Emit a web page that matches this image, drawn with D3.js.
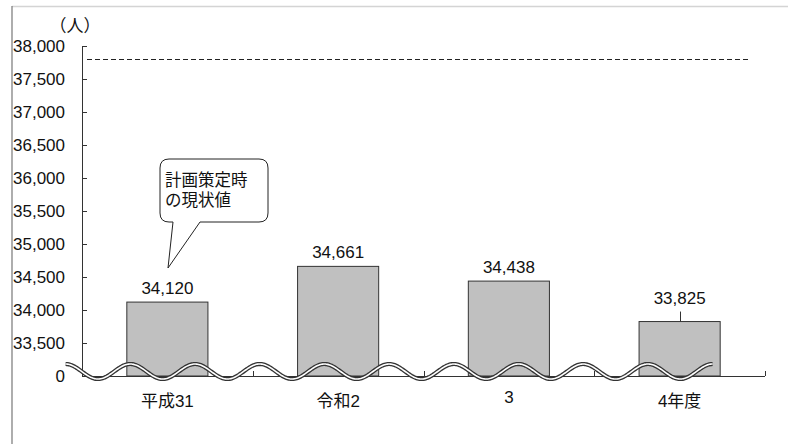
<!DOCTYPE html>
<html><head><meta charset="utf-8">
<script src="https://cdn.jsdelivr.net/npm/d3@7"></script>
<style>
html,body{margin:0;padding:0;background:#fff;}
svg{display:block;}
text{font-family:"Liberation Sans","Noto Sans CJK JP",Arial,sans-serif;fill:#111;}
</style></head>
<body>
<svg id="c" width="788" height="444"></svg>
<script>
const categories = ["平成31", "令和2", "3", "4年度"];
const values = [34120, 34661, 34438, 33825];
const valueLabels = ["34,120", "34,661", "34,438", "33,825"];
const targetValue = 37800;
const yTicks = [33000, 33500, 34000, 34500, 35000, 35500, 36000, 36500, 37000, 37500, 38000];
const yTickLabels = ["0", "33,500", "34,000", "34,500", "35,000", "35,500", "36,000", "36,500", "37,000", "37,500", "38,000"];
const unitLabel = "（人）";
const calloutLines = ["計画策定時", "の現状値"];

(function () {
const svg = d3.select("#c");
const pLeft = 82, pRight = 765, pTop = 46, pBottom = 376;

const y = d3.scaleLinear().domain([33000, 38000]).range([pBottom, pTop]);
const x = d3.scaleBand().domain(categories).range([pLeft, pRight]).padding(0);
const barW = x.bandwidth() * 0.475;

// frame lines
svg.append("line").attr("x1", 12).attr("x2", 788).attr("y1", 6.5).attr("y2", 6.5).attr("stroke", "#d4d4d4").attr("stroke-width", 1.5);
svg.append("line").attr("x1", 12).attr("x2", 12).attr("y1", 6).attr("y2", 444).attr("stroke", "#777").attr("stroke-width", 1.2);

// target dashed line
svg.append("line").attr("x1", pLeft + 5).attr("x2", 749)
  .attr("y1", Math.round(y(targetValue)) + 0.5).attr("y2", Math.round(y(targetValue)) + 0.5)
  .attr("stroke", "#222").attr("stroke-width", 1).attr("stroke-dasharray", "5,3");

// bars
svg.selectAll("rect.bar").data(values).enter().append("rect")
  .attr("class", "bar")
  .attr("x", (d, i) => x(categories[i]) + x.bandwidth() / 2 - barW / 2)
  .attr("y", d => y(d))
  .attr("width", barW)
  .attr("height", d => pBottom - y(d))
  .attr("fill", "#c0c0c0").attr("stroke", "#333").attr("stroke-width", 1);

// y axis
const yAxis = d3.axisLeft(y).tickValues(yTicks)
  .tickFormat((d, i) => yTickLabels[i]).tickSize(-5).tickPadding(17);
const gy = svg.append("g").attr("transform", `translate(${pLeft},0)`).call(yAxis);
gy.select(".domain").attr("stroke", "#333");
gy.selectAll(".tick line").attr("stroke", "#333");
gy.selectAll(".tick text").style("font-size", "17px").attr("fill", "#111")
  .style("font-family", '"Liberation Sans","Noto Sans CJK JP",Arial,sans-serif');

// x axis line + boundary ticks
svg.append("line").attr("x1", pLeft).attr("x2", pRight).attr("y1", pBottom + 0.5).attr("y2", pBottom + 0.5).attr("stroke", "#333");
categories.forEach(c => {
  const xb = Math.round(x(c) + x.bandwidth()) + 0.5;
  svg.append("line").attr("x1", xb).attr("x2", xb).attr("y1", pBottom - 5).attr("y2", pBottom).attr("stroke", "#333");
});

// category labels
svg.selectAll("text.cat").data(categories).enter().append("text")
  .attr("class", "cat")
  .attr("x", d => x(d) + x.bandwidth() / 2)
  .attr("y", d => d === "3" ? 403 : 407)
  .attr("text-anchor", "middle").style("font-size", "17px")
  .text(d => d);

// value labels
svg.selectAll("text.val").data(values).enter().append("text")
  .attr("class", "val")
  .attr("x", (d, i) => x(categories[i]) + x.bandwidth() / 2)
  .attr("y", (d, i) => i === 3 ? y(d) - 18 : y(d) - 8)
  .attr("text-anchor", "middle").style("font-size", "17px")
  .text((d, i) => valueLabels[i]);
// leader line for last label
{
  const xc = Math.round(x(categories[3]) + x.bandwidth() / 2) + 0.5;
  svg.append("line").attr("x1", xc).attr("x2", xc).attr("y1", y(values[3]) - 10).attr("y2", y(values[3])).attr("stroke", "#333");
}

// unit label
svg.append("text").attr("x", 75).attr("y", 32).attr("text-anchor", "middle")
  .style("font-size", "17px").text(unitLabel);

// axis break wave
const period = 64.7, x0 = 65.6, cy = 371.5, amp = 7.5;
const pts = d3.range(0, 10 * period + 0.01, 1).map(t => [x0 + t, cy - amp * Math.cos(2 * Math.PI * t / period)]);
const line = d3.line();
svg.append("path").attr("d", line(pts)).attr("fill", "none").attr("stroke", "#333").attr("stroke-width", 4.2);
svg.append("path").attr("d", line(pts)).attr("fill", "none").attr("stroke", "#fff").attr("stroke-width", 1.6);

// callout
const bx = 160, by = 159, bw = 108, bh = 63, r = 9;
const tailL = 173, tailR = 200, tipX = 168, tipY = 268;
const cp = `M${bx + r},${by} H${bx + bw - r} Q${bx + bw},${by} ${bx + bw},${by + r} V${by + bh - r} Q${bx + bw},${by + bh} ${bx + bw - r},${by + bh} H${tailR} L${tipX},${tipY} L${tailL},${by + bh} H${bx + r} Q${bx},${by + bh} ${bx},${by + bh - r} V${by + r} Q${bx},${by} ${bx + r},${by} Z`;
svg.append("path").attr("d", cp).attr("fill", "#fff").attr("stroke", "#222").attr("stroke-width", 1);
calloutLines.forEach((t, i) => {
  svg.append("text").attr("x", 165).attr("y", 186 + i * 20).style("font-size", "16.5px").text(t);
});
})();
</script>
</body></html>
